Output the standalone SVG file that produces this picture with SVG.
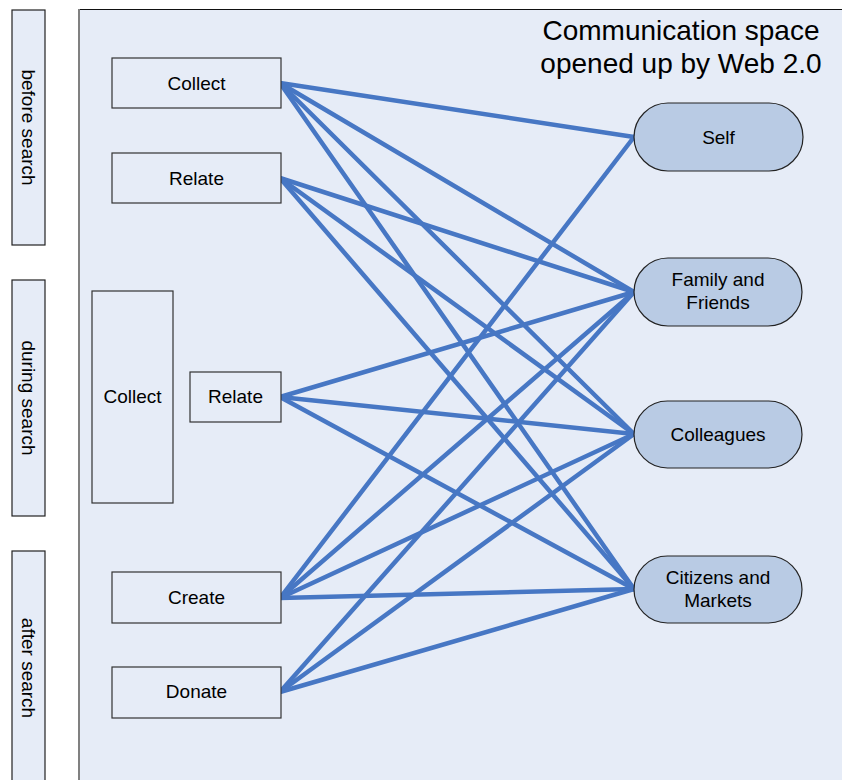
<svg xmlns="http://www.w3.org/2000/svg" width="842" height="780" viewBox="0 0 842 780">
<style>
text{font-family:"Liberation Sans",Arial,sans-serif;font-size:19px;fill:#000;text-anchor:middle}
.side{fill:#E6ECF7;stroke:#222;stroke-width:1.2}
.box{fill:#E6ECF7;stroke:#333;stroke-width:1.2}
.cap{fill:#B9CBE4;stroke:#222;stroke-width:1.2}
.edge{stroke:#4777C4;stroke-width:4.5;stroke-linecap:round;fill:none}
.title{font-size:28px}
</style>
<rect width="842" height="780" fill="#fff"/>
<g id="panel">
<rect x="79" y="9.5" width="770" height="780" fill="#E6ECF7"/>
<line x1="79" y1="9.5" x2="842" y2="9.5" stroke="#111" stroke-width="1.2"/>
<line x1="79" y1="9" x2="79" y2="780" stroke="#808080" stroke-width="2"/>
<text class="title" x="681" y="40">Communication space</text>
<text class="title" x="681" y="73">opened up by Web 2.0</text>
</g>
<g id="side-before"><rect class="side" x="12" y="10" width="33" height="235"/><text transform="translate(28.5,127.5) rotate(90)" dy="0.35em">before search</text></g>
<g id="side-during"><rect class="side" x="12" y="280" width="33" height="236"/><text transform="translate(28.5,398) rotate(90)" dy="0.35em">during search</text></g>
<g id="side-after"><rect class="side" x="12" y="551" width="33" height="240"/><text transform="translate(28.5,668) rotate(90)" dy="0.35em">after search</text></g>
<g id="connectors">
<line class="edge" x1="280" y1="83" x2="634" y2="137"/>
<line class="edge" x1="280" y1="83" x2="634" y2="292"/>
<line class="edge" x1="280" y1="83" x2="634" y2="434"/>
<line class="edge" x1="280" y1="83" x2="634" y2="589"/>
<line class="edge" x1="280" y1="178" x2="634" y2="292"/>
<line class="edge" x1="280" y1="178" x2="634" y2="434"/>
<line class="edge" x1="280" y1="178" x2="634" y2="589"/>
<line class="edge" x1="280" y1="397" x2="634" y2="292"/>
<line class="edge" x1="280" y1="397" x2="634" y2="434"/>
<line class="edge" x1="280" y1="397" x2="634" y2="589"/>
<line class="edge" x1="280" y1="598" x2="634" y2="137"/>
<line class="edge" x1="280" y1="598" x2="634" y2="292"/>
<line class="edge" x1="280" y1="598" x2="634" y2="434"/>
<line class="edge" x1="280" y1="598" x2="634" y2="589"/>
<line class="edge" x1="280" y1="692" x2="634" y2="292"/>
<line class="edge" x1="280" y1="692" x2="634" y2="434"/>
<line class="edge" x1="280" y1="692" x2="634" y2="589"/>
</g>
<g id="collect-before"><rect class="box" x="112" y="58" width="169" height="50"/><text x="196.5" y="89.5">Collect</text></g>
<g id="relate-before"><rect class="box" x="112" y="153" width="169" height="50"/><text x="196.5" y="184.5">Relate</text></g>
<g id="collect-during"><rect class="box" x="92" y="291" width="81" height="212"/><text x="132.5" y="403">Collect</text></g>
<g id="relate-during"><rect class="box" x="190" y="372" width="91" height="50"/><text x="235.5" y="403">Relate</text></g>
<g id="create"><rect class="box" x="112" y="572" width="169" height="51"/><text x="196.5" y="604">Create</text></g>
<g id="donate"><rect class="box" x="112" y="667" width="169" height="51"/><text x="196.5" y="698">Donate</text></g>
<g id="self"><rect class="cap" x="634" y="103" width="169" height="68" rx="34"/><text x="718.5" y="143.5">Self</text></g>
<g id="family"><rect class="cap" x="634" y="258" width="168" height="68" rx="34"/><text x="718" y="286">Family and</text><text x="718" y="309">Friends</text></g>
<g id="colleagues"><rect class="cap" x="634" y="401" width="168" height="67" rx="33.5"/><text x="718" y="441">Colleagues</text></g>
<g id="citizens"><rect class="cap" x="634" y="556" width="168" height="67" rx="33.5"/><text x="718" y="584">Citizens and</text><text x="718" y="607">Markets</text></g>
</svg>
